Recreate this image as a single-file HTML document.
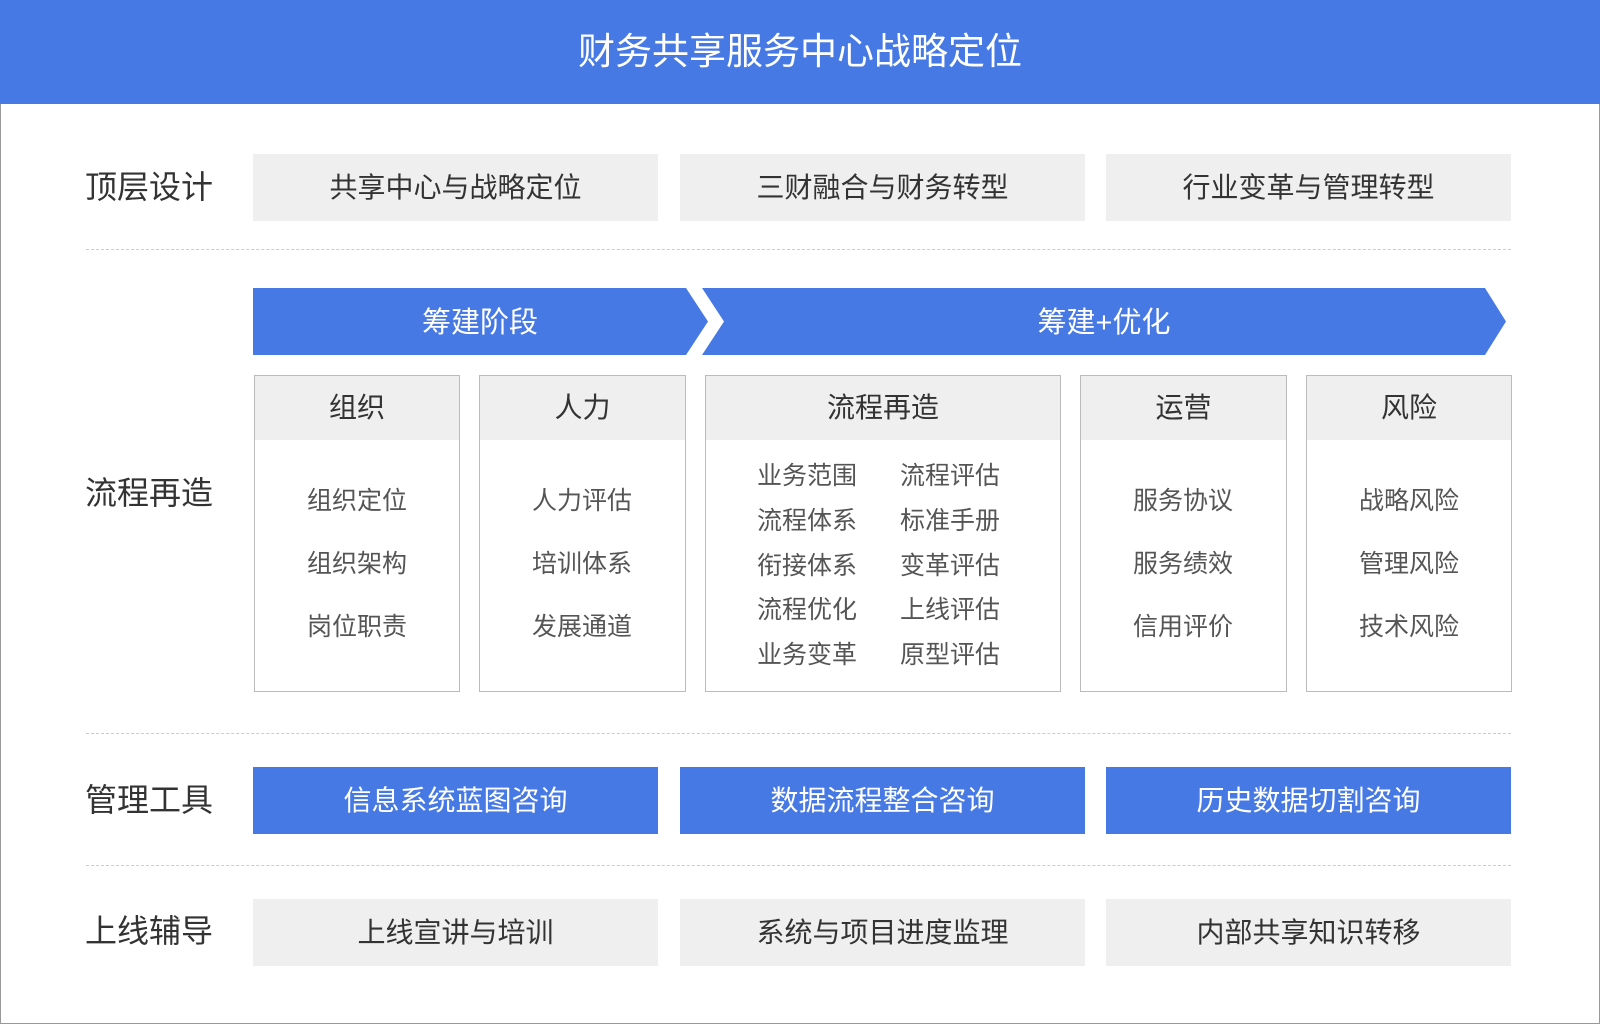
<!DOCTYPE html>
<html><head><meta charset="utf-8"><style>
*{margin:0;padding:0;box-sizing:border-box}
body{width:1600px;height:1024px;background:#fff;position:relative;overflow:hidden;font-family:"Liberation Sans","Noto Sans CJK SC",sans-serif;color:#333}
.frame{position:absolute;left:0;top:0;width:1600px;height:1024px;border:1px solid #999}
.hdr{position:absolute;left:0;top:0;width:1600px;height:104px;background:#4679e3;color:#fff;font-size:37px;text-align:center;line-height:104px}
.lbl{position:absolute;left:85px;font-size:32px;color:#333;line-height:40px;margin-top:-20px}
.box{position:absolute;height:67px;line-height:67px;text-align:center;font-size:28px}
.g{background:#efefef;color:#333}
.b{background:#4679e3;color:#fff}
.dash{position:absolute;left:86px;width:1425px;border-top:1px dashed #ccc}
.card{position:absolute;top:375px;height:317px;border:1px solid #bbb;background:#fff}
.card .h{height:64px;background:#efefef;text-align:center;line-height:64px;font-size:28px;color:#333}
.it{position:absolute;font-size:25px;color:#555;transform:translate(-50%,-50%);white-space:nowrap}
</style></head><body>
<div class="frame"></div>
<div class="hdr">财务共享服务中心战略定位</div>

<div class="lbl" style="top:187px">顶层设计</div>
<div class="box g" style="left:253px;top:154px;width:405px">共享中心与战略定位</div>
<div class="box g" style="left:680px;top:154px;width:405px">三财融合与财务转型</div>
<div class="box g" style="left:1106px;top:154px;width:405px">行业变革与管理转型</div>
<div class="dash" style="top:249px"></div>

<svg style="position:absolute;left:0;top:0" width="1600" height="1024">
<polygon points="253,288 686,288 708,321.5 686,355 253,355" fill="#4679e3"/>
<polygon points="702,288 1485,288 1506,321.5 1485,355 702,355 724,321.5" fill="#4679e3"/>
<text x="480" y="332" font-size="29" fill="#fff" text-anchor="middle" font-family="Liberation Sans, Noto Sans CJK SC, sans-serif">筹建阶段</text>
<text x="1104" y="332" font-size="29" fill="#fff" text-anchor="middle" font-family="Liberation Sans, Noto Sans CJK SC, sans-serif">筹建+优化</text>
</svg>

<div class="lbl" style="top:493px">流程再造</div>
<div class="card" style="left:254px;width:206px"><div class="h">组织</div></div>
<div class="card" style="left:479px;width:207px"><div class="h">人力</div></div>
<div class="card" style="left:705px;width:356px"><div class="h">流程再造</div></div>
<div class="card" style="left:1080px;width:207px"><div class="h">运营</div></div>
<div class="card" style="left:1306px;width:206px"><div class="h">风险</div></div>

<div class="it" style="left:357px;top:499px">组织定位</div>
<div class="it" style="left:357px;top:562px">组织架构</div>
<div class="it" style="left:357px;top:625px">岗位职责</div>
<div class="it" style="left:582px;top:499px">人力评估</div>
<div class="it" style="left:582px;top:562px">培训体系</div>
<div class="it" style="left:582px;top:625px">发展通道</div>
<div class="it" style="left:807px;top:474px">业务范围</div>
<div class="it" style="left:950px;top:474px">流程评估</div>
<div class="it" style="left:807px;top:519px">流程体系</div>
<div class="it" style="left:950px;top:519px">标准手册</div>
<div class="it" style="left:807px;top:564px">衔接体系</div>
<div class="it" style="left:950px;top:564px">变革评估</div>
<div class="it" style="left:807px;top:608px">流程优化</div>
<div class="it" style="left:950px;top:608px">上线评估</div>
<div class="it" style="left:807px;top:653px">业务变革</div>
<div class="it" style="left:950px;top:653px">原型评估</div>
<div class="it" style="left:1183px;top:499px">服务协议</div>
<div class="it" style="left:1183px;top:562px">服务绩效</div>
<div class="it" style="left:1183px;top:625px">信用评价</div>
<div class="it" style="left:1409px;top:499px">战略风险</div>
<div class="it" style="left:1409px;top:562px">管理风险</div>
<div class="it" style="left:1409px;top:625px">技术风险</div>

<div class="dash" style="top:733px"></div>
<div class="lbl" style="top:800px">管理工具</div>
<div class="box b" style="left:253px;top:767px;width:405px">信息系统蓝图咨询</div>
<div class="box b" style="left:680px;top:767px;width:405px">数据流程整合咨询</div>
<div class="box b" style="left:1106px;top:767px;width:405px">历史数据切割咨询</div>

<div class="dash" style="top:865px"></div>
<div class="lbl" style="top:931px">上线辅导</div>
<div class="box g" style="left:253px;top:899px;width:405px">上线宣讲与培训</div>
<div class="box g" style="left:680px;top:899px;width:405px">系统与项目进度监理</div>
<div class="box g" style="left:1106px;top:899px;width:405px">内部共享知识转移</div>
</body></html>
